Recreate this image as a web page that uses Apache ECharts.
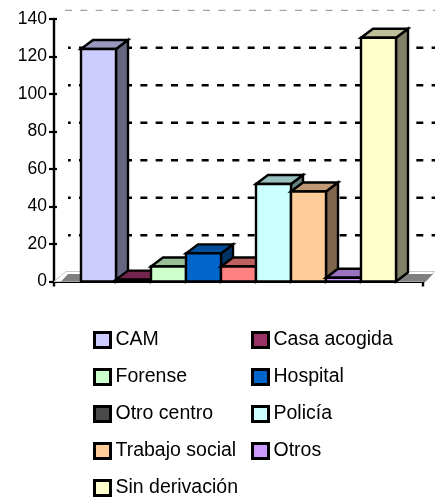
<!DOCTYPE html>
<html>
<head>
<meta charset="utf-8">
<style>html,body{margin:0;padding:0;background:#fff}#c{width:435px;height:500px}</style>
<script src="https://cdn.jsdelivr.net/npm/echarts@6/dist/echarts.min.js"></script>
</head>
<body>
<div id="c"></div>
<script>
var names = ['CAM','Casa acogida','Forense','Hospital','Otro centro','Policía','Trabajo social','Otros','Sin derivación'];
var values = [124,1,8,15,8,52,48,2,130];
var colors = ['#CCCCFF','#993366','#CCFFCC','#0066CC','#FF8080','#CCFFFF','#FFCC99','#CC99FF','#FFFFCC'];
var legendColors = ['#CCCCFF','#993366','#CCFFCC','#0066CC','#4A4A4A','#CCFFFF','#FFCC99','#CC99FF','#FFFFCC'];
var yTicks = [20,40,60,80,100,120,140];
var categories = ['Derivación'];
var FONT = '"Liberation Sans",Arial,sans-serif';
var DX = 12, DY = 9, BAR_FRAC = 35/369, LW = 2.4;

function shade(hex,f){
  var n = parseInt(hex.slice(1),16);
  var r = Math.round((n>>16&255)*f), g = Math.round((n>>8&255)*f), b = Math.round((n&255)*f);
  return 'rgb('+r+','+g+','+b+')';
}
function barRender(idx){
  return function(params, api){
    var top = api.coord([0, api.value(1)]);
    var base = api.coord([0, 0]);
    var w = api.size([1,0])[0]*BAR_FRAC;
    var x0 = top[0] + (idx-4.5)*w, x1 = x0+w, yt = top[1], yb = base[1];
    var line = {stroke:'#000', lineWidth:LW, lineJoin:'miter'};
    var c = colors[idx];
    return {type:'group', children:[
      {type:'polygon', shape:{points:[[x1,yb],[x1+DX,yb-DY],[x1+DX,yt-DY],[x1,yt]]}, style:Object.assign({fill:shade(c,0.5)},line)},
      {type:'polygon', shape:{points:[[x0,yt],[x0+DX,yt-DY],[x1+DX,yt-DY],[x1,yt]]}, style:Object.assign({fill:shade(c,0.75)},line)},
      {type:'rect', shape:{x:x0,y:yt,width:w,height:yb-yt}, style:Object.assign({fill:c},line)}
    ]};
  };
}
function floorRender(params, api){
  var b = api.coord([0,0]), w = api.size([1,0])[0];
  var x0 = b[0]-w/2, x1 = b[0]+w/2, y = b[1];
  return {type:'group', children:[
    {type:'polygon', shape:{points:[[x0,y],[x0+DX,y-DY-1],[x1+DX,y-DY-1],[x1,y]]}, style:{fill:'#fff',stroke:'#c8c8c8',lineWidth:1}},
    {type:'polygon', shape:{points:[[x0+7,y],[x0+14,y-7.5],[x1+10,y-7.5],[x1+3,y]]}, style:{fill:'#808080'}}
  ]};
}
function gridRender(params, api){
  var v = api.value(1);
  var p = api.coord([0,v]), w = api.size([1,0])[0];
  var x0 = p[0]-w/2+14, x1 = 435, y = p[1]-8.7;
  if (v===140) return {type:'line', shape:{x1:x0-3,y1:y,x2:x1,y2:y}, style:{stroke:'#8a8a8a',lineWidth:1,lineDash:[7,8.33]}};
  return {type:'line', shape:{x1:x0,y1:y,x2:x1,y2:y}, style:{stroke:'#000',lineWidth:2.6,lineDash:[7,8.33],lineDashOffset:4.3}};
}
var series = [
  {type:'custom', id:'floor', renderItem:floorRender, data:[[0,0]], z:1, silent:true},
  {type:'custom', id:'grid', renderItem:gridRender, data:yTicks.map(function(t){return [0,t];}), z:2, silent:true}
];
names.forEach(function(n,i){
  series.push({type:'custom', name:n, renderItem:barRender(i), data:[[0,values[i]]], z:3+i,
    itemStyle:{color:legendColors[i]}, silent:true});
});
function legendOf(list,left){
  return {
    orient:'vertical', left:left, top:329, itemWidth:16, itemHeight:15, itemGap:15, icon:'rect',
    selectedMode:false, padding:0,
    textStyle:{fontFamily:FONT,fontSize:19.5,color:'#000',lineHeight:22},
    data:list.map(function(i){
      return {name:names[i], icon:'rect', itemStyle:{color:legendColors[i],borderColor:'#000',borderWidth:3}};
    })
  };
}
var chart = echarts.init(document.getElementById('c'),null,{renderer:'canvas'});
chart.setOption({
  animation:false,
  backgroundColor:'#fff',
  legend:[legendOf([0,2,4,6,8],93), legendOf([1,3,5,7],251)],
  grid:{left:54,top:19,width:369,height:262.5,containLabel:false},
  xAxis:{type:'category',data:categories,boundaryGap:true,
    axisLine:{lineStyle:{color:'#000',width:3}},
    axisTick:{show:true,length:5,lineStyle:{color:'#000',width:2.4}},
    axisLabel:{show:false},splitLine:{show:false}},
  yAxis:[{type:'value',min:0,max:140,interval:20,
    axisLine:{show:true,lineStyle:{color:'#000',width:2.4}},
    axisTick:{show:true,length:5,lineStyle:{color:'#000',width:2.2}},
    axisLabel:{fontFamily:FONT,fontSize:17.5,color:'#000',margin:7},
    splitLine:{show:false}},
  {type:'value',min:0,max:140,interval:20,position:'left',
    axisLine:{show:false},
    axisTick:{show:true,inside:true,length:3,lineStyle:{color:'#000',width:2.2}},
    axisLabel:{show:false},splitLine:{show:false}}],
  series:series
});
</script>
</body>
</html>
